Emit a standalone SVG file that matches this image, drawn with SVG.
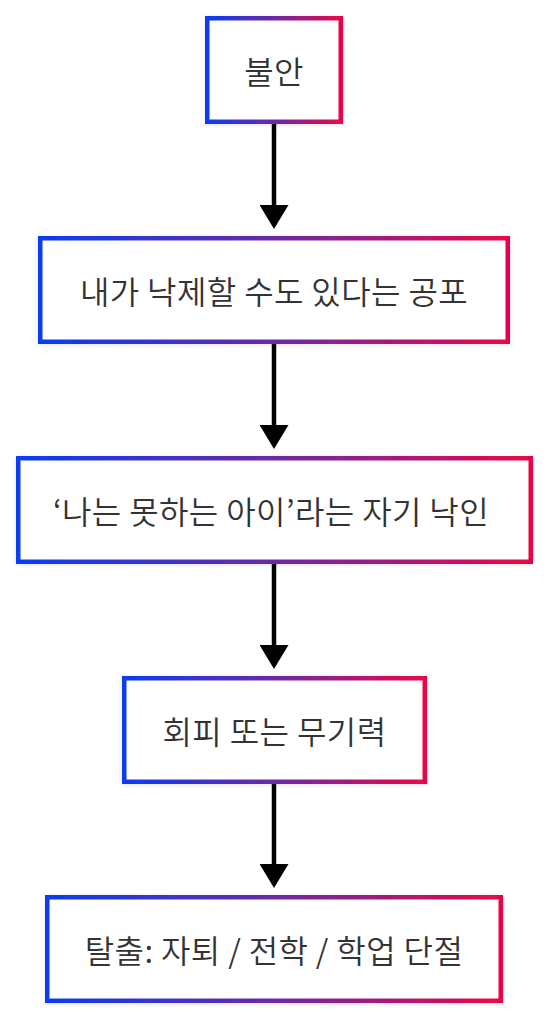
<svg xmlns="http://www.w3.org/2000/svg" width="551" height="1024" viewBox="0 0 551 1024">
<defs>
<linearGradient id="g" x1="0" y1="0" x2="1" y2="0">
<stop offset="0" stop-color="#0a3cf0"/>
<stop offset="0.5" stop-color="#6a2aa8"/>
<stop offset="1" stop-color="#ea0648"/>
</linearGradient>
<filter id="sh" x="-10%" y="-20%" width="120%" height="140%">
<feDropShadow dx="0" dy="1" stdDeviation="2" flood-color="#000" flood-opacity="0.12"/>
</filter>
<marker id="ah" markerWidth="24" markerHeight="29" refX="0" refY="14.5" orient="auto" markerUnits="userSpaceOnUse" viewBox="0 0 24 29">
<path d="M0,0 L24,14.5 L0,29 Z" fill="#000"/>
</marker>
</defs>
<style>
.box{fill:#fff;stroke:url(#g);stroke-width:4.5;filter:url(#sh)}
.t{font-family:"Noto Sans CJK KR","Noto Sans",sans-serif;font-size:32px;font-weight:350;letter-spacing:0.4px;fill:#333;text-anchor:middle;dominant-baseline:central}
.c{stroke:#000;stroke-width:4.5;fill:none}
</style>
<rect width="551" height="1024" fill="#fff"/>
<g id="connectors">
<line class="c" x1="274" y1="124" x2="274" y2="205" marker-end="url(#ah)"/>
<line class="c" x1="274" y1="344" x2="274" y2="425" marker-end="url(#ah)"/>
<line class="c" x1="274" y1="564" x2="274" y2="645" marker-end="url(#ah)"/>
<line class="c" x1="274" y1="784" x2="274" y2="864" marker-end="url(#ah)"/>
</g>
<g id="n1">
<rect class="box" x="207.25" y="18.25" width="133.5" height="103.5"/>
<text class="t" x="274" y="70">불안</text>
</g>
<g id="n2">
<rect class="box" x="40.25" y="238.25" width="467.5" height="103.5"/>
<text class="t" x="274" y="290">내가 낙제할 수도 있다는 공포</text>
</g>
<g id="n3">
<rect class="box" x="18.25" y="458.25" width="512.5" height="103.5"/>
<text class="t" x="271" y="510">‘나는 못하는 아이’라는 자기 낙인</text>
</g>
<g id="n4">
<rect class="box" x="124.25" y="678.25" width="300.5" height="103.5"/>
<text class="t" x="274.5" y="730">회피 또는 무기력</text>
</g>
<g id="n5">
<rect class="box" x="47.25" y="897.25" width="453.5" height="103.5"/>
<text class="t" x="274" y="949">탈출: 자퇴 / 전학 / 학업 단절</text>
</g>
</svg>
